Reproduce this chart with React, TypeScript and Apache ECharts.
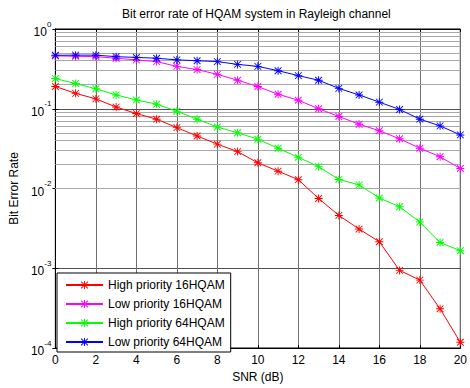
import React, { useEffect, useRef } from "react";
import * as echarts from "echarts";

const snr = [0, 1, 2, 3, 4, 5, 6, 7, 8, 9, 10, 11, 12, 13, 14, 15, 16, 17, 18, 19, 20];
const highPriority16 = [0.19, 0.156, 0.133, 0.105, 0.087, 0.074, 0.058, 0.0455, 0.036, 0.029, 0.021, 0.0165, 0.0129, 0.0075, 0.0046, 0.0031, 0.00215, 0.00094, 0.00071, 0.00031, 0.000118];
const lowPriority16 = [0.46, 0.455, 0.45, 0.43, 0.41, 0.39, 0.34, 0.31, 0.27, 0.228, 0.19, 0.152, 0.128, 0.1, 0.08, 0.064, 0.053, 0.042, 0.032, 0.025, 0.0178];
const highPriority64 = [0.239, 0.207, 0.178, 0.149, 0.129, 0.114, 0.093, 0.074, 0.059, 0.05, 0.0414, 0.032, 0.0246, 0.0188, 0.013, 0.0111, 0.0076, 0.0059, 0.0038, 0.0021, 0.00166];
const lowPriority64 = [0.468, 0.47, 0.47, 0.45, 0.44, 0.43, 0.41, 0.4, 0.39, 0.36, 0.34, 0.3, 0.26, 0.228, 0.18, 0.149, 0.121, 0.098, 0.074, 0.061, 0.047];

const seriesNames = ["High priority 16HQAM", "Low priority 16HQAM", "High priority 64HQAM", "Low priority 64HQAM"];
const seriesColors = ["#ff0000", "#ff00ff", "#00ff00", "#0000ff"];
const seriesValues = [highPriority16, lowPriority16, highPriority64, lowPriority64];

const decades = [1e-4, 1e-3, 1e-2, 1e-1];
const minorMultipliers = [2, 3, 4, 5, 6, 7, 8, 9];

const asterisk =
  "path://M4.4,0 L5.6,0 L5.6,10 L4.4,10 Z M0,4.4 L10,4.4 L10,5.6 L0,5.6 Z M1.2,0.4 L9.6,8.8 L8.8,9.6 L0.4,1.2 Z M8.8,0.4 L9.6,1.2 L1.2,9.6 L0.4,8.8 Z";

const FONT = "Liberation Sans, Arial, sans-serif";

export default function App() {
  const ref = useRef<HTMLDivElement>(null);
  useEffect(() => {
    document.body.style.margin = "0";
    const chart = echarts.init(ref.current!, null, { renderer: "svg" });
    const minorLines: any[] = [];
    decades.forEach((d) => minorMultipliers.forEach((m) => minorLines.push({ yAxis: d * m })));

    const series: any[] = seriesNames.map((name, i) => ({
      name,
      type: "line",
      data: snr.map((x, j) => [x, seriesValues[i][j]]),
      symbol: asterisk,
      symbolSize: 8,
      showSymbol: true,
      lineStyle: { color: seriesColors[i], width: 1 },
      itemStyle: { color: seriesColors[i] },
      z: 5,
    }));
    series.push({
      name: "minor",
      type: "line",
      data: [],
      silent: true,
      markLine: {
        silent: true,
        symbol: "none",
        label: { show: false },
        lineStyle: { color: "#a8a8a8", width: 1, type: "solid" },
        data: minorLines,
        animation: false,
      },
      z: 1,
    });

    const option: any = {
      animation: false,
      backgroundColor: "#fff",
      textStyle: { fontFamily: FONT },
      title: {
        text: "Bit error rate of HQAM system in Rayleigh channel",
        left: 117,
        top: 3,
        textStyle: { fontFamily: FONT, fontSize: 12, fontWeight: "normal", color: "#000" },
      },
      grid: {
        left: 55,
        right: 4,
        top: 29,
        bottom: 35,
        show: true,
        borderColor: "#000",
        borderWidth: 1,
        backgroundColor: "#fff",
      },
      legend: {
        data: seriesNames,
        orient: "vertical",
        left: 57,
        top: 273,
        padding: [6, 6, 4, 8],
        itemWidth: 37,
        itemHeight: 10,
        itemGap: 7,
        backgroundColor: "#fff",
        borderColor: "#000",
        borderWidth: 1,
        textStyle: { fontFamily: FONT, fontSize: 12, color: "#000" },
      },
      xAxis: [
        {
          type: "value",
          min: 0,
          max: 20,
          interval: 2,
          name: "SNR (dB)",
          nameLocation: "middle",
          nameGap: 23,
          nameTextStyle: { fontFamily: FONT, fontSize: 12, color: "#000" },
          axisLine: { show: true, lineStyle: { color: "#000", width: 1 } },
          axisTick: { show: true, inside: true, length: 3, lineStyle: { color: "#000" } },
          axisLabel: { fontFamily: FONT, fontSize: 12, color: "#000", margin: 6 },
          splitLine: { show: true, lineStyle: { color: "#707070", width: 1 } },
        },
        {
          type: "value",
          position: "top",
          min: 0,
          max: 20,
          interval: 2,
          axisLine: { show: true, lineStyle: { color: "#000", width: 1 } },
          axisTick: { show: true, inside: true, length: 3, lineStyle: { color: "#000" } },
          axisLabel: { show: false },
          splitLine: { show: false },
        },
      ],
      yAxis: [
        {
          type: "log",
          logBase: 10,
          min: 1e-4,
          max: 1,
          name: "Bit Error Rate",
          nameLocation: "middle",
          nameGap: 34,
          nameTextStyle: { fontFamily: FONT, fontSize: 12, color: "#000" },
          axisLine: { show: true, lineStyle: { color: "#000", width: 1 } },
          axisTick: { show: true, inside: true, length: 3, lineStyle: { color: "#000" } },
          axisLabel: {
            margin: 4,
            formatter: (v: number) => `{b|10}{s|${Math.round(Math.log10(v))}}`,
            rich: {
              b: { fontFamily: FONT, fontSize: 12, color: "#000", verticalAlign: "bottom", lineHeight: 18, padding: [4, 0, 0, 0] },
              s: { fontFamily: FONT, fontSize: 8, color: "#000", verticalAlign: "top", lineHeight: 18 },
            },
          },
          splitLine: { show: true, lineStyle: { color: "#505050", width: 1 } },
        },
        {
          type: "log",
          logBase: 10,
          min: 1e-4,
          max: 1,
          position: "right",
          axisLine: { show: true, lineStyle: { color: "#000", width: 1 } },
          axisTick: { show: true, inside: true, length: 3, lineStyle: { color: "#000" } },
          axisLabel: { show: false },
          splitLine: { show: false },
        },
      ],
      series,
    };
    chart.setOption(option);
    return () => chart.dispose();
  }, []);
  return <div ref={ref} style={{ position: "fixed", left: 0, top: 0, width: 470, height: 388 }} />;
}
